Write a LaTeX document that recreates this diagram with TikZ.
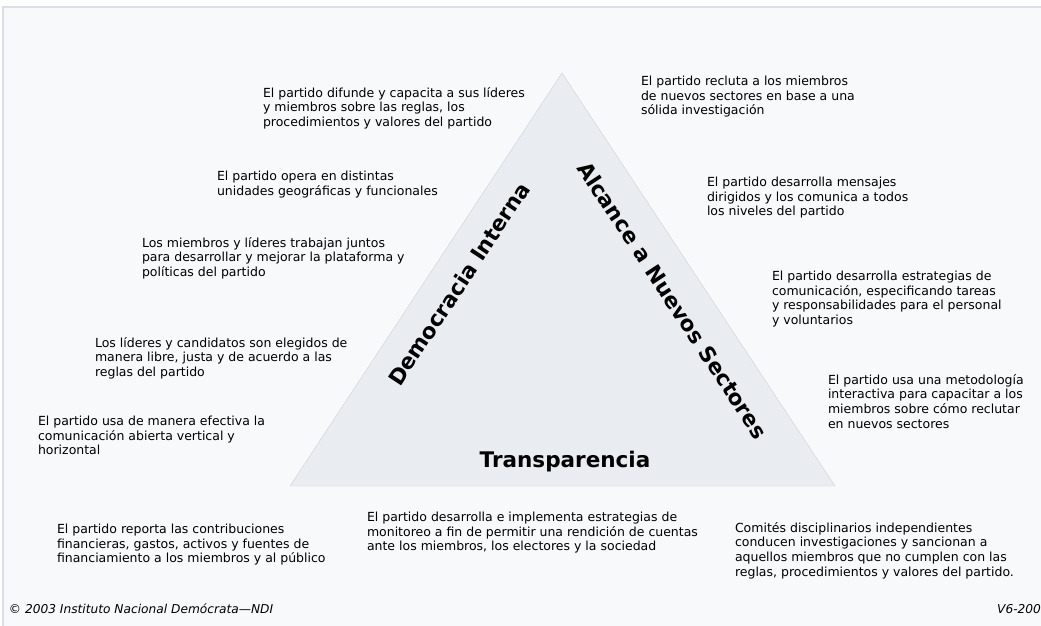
\documentclass[tikz,border=0pt]{standalone}
\usepackage{fontspec}
\setmainfont{DejaVu Sans}
\definecolor{paper}{HTML}{F8F9FB}
\definecolor{rim}{HTML}{DCE0E6}
\definecolor{trifill}{HTML}{E9ECF0}
\definecolor{triedge}{HTML}{CDD2D9}
\begin{document}
\begin{tikzpicture}[x=1pt,y=-1pt,every node/.style={inner sep=0,outer sep=0},
  item/.style={anchor=north west,align=left,font=\fontsize{12.5}{14.7}\selectfont},
  side/.style={font=\fontsize{21.5}{24}\selectfont\bfseries},
  foot/.style={font=\fontsize{12.2}{14}\selectfont\itshape}]
\useasboundingbox (0,0) rectangle (1041,625);
\clip (0,0) rectangle (1041,625);
\fill [white] (0,0) rectangle (1041,625);
\draw [rim,line width=1.5pt,fill=paper] (3,7) rectangle (1060,640);

% the triangle
\coordinate (apex) at (562,73); \coordinate (bl) at (290,486); \coordinate (br) at (835,486);
\draw [triedge,fill=trifill] (apex) -- (br) -- (bl) -- cycle;
\node (demo) [side,rotate=56.6] at (459,284) {Democracia Interna};
\node (alcance) [side,rotate=-56.7] at (673,300) {Alcance a Nuevos Sectores};
\node (transp) [side] at (565,462) {Transparencia};

% left side
\node (d1) [item] at (263,87) {El partido difunde y capacita a sus líderes\\y miembros sobre las reglas, los\\procedimientos y valores del partido};
\node (d2) [item] at (217,171) {El partido opera en distintas\\unidades geográficas y funcionales};
\node (d3) [item] at (142,237) {Los miembros y líderes trabajan juntos\\para desarrollar y mejorar la plataforma y\\políticas del partido};
\node (d4) [item] at (95,337) {Los líderes y candidatos son elegidos de\\manera libre, justa y de acuerdo a las\\reglas del partido};
\node (d5) [item] at (38,416) {El partido usa de manera efectiva la\\comunicación abierta vertical y\\horizontal};

% right side
\node (a1) [item] at (641,76) {El partido recluta a los miembros\\de nuevos sectores en base a una\\sólida investigación};
\node (a2) [item] at (707,177) {El partido desarrolla mensajes\\dirigidos y los comunica a todos\\los niveles del partido};
\node (a3) [item] at (772,271) {El partido desarrolla estrategias de\\comunicación, especificando tareas\\y responsabilidades para el personal\\y voluntarios};
\node (a4) [item] at (828,374) {El partido usa una metodología\\interactiva para capacitar a los\\miembros sobre cómo reclutar\\en nuevos sectores};

% base
\node (t1) [item] at (57,524) {El partido reporta las contribuciones\\financieras, gastos, activos y fuentes de\\financiamiento a los miembros y al público};
\node (t2) [item] at (367,512) {El partido desarrolla e implementa estrategias de\\monitoreo a fin de permitir una rendición de cuentas\\ante los miembros, los electores y la sociedad};
\node (t3) [item] at (735,522) {Comités disciplinarios independientes\\conducen investigaciones y sancionan a\\aquellos miembros que no cumplen con las\\reglas, procedimientos y valores del partido.};

\node (copy) [foot,anchor=west] at (9,609) {© 2003 Instituto Nacional Demócrata—NDI};
\node (ver) [foot,anchor=east] at (1041,609) {V6-200};
\end{tikzpicture}
\end{document}
